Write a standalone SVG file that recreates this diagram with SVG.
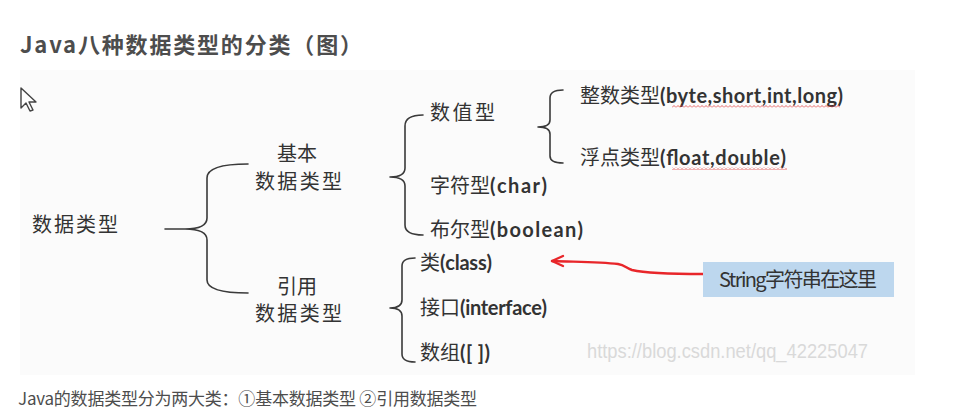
<svg xmlns="http://www.w3.org/2000/svg" width="969" height="411" viewBox="0 0 969 411">
<defs>
<style>
.cn{font-family:"Noto Sans CJK SC","Noto Sans",sans-serif;fill:#333;font-size:20px}
.lat{font-family:Lato,"Open Sans","Liberation Sans",sans-serif;font-weight:700}
.br{fill:none;stroke:#3a3a3a;stroke-width:1.6;stroke-linecap:round}
.page{font-family:"Noto Sans CJK SC","Noto Sans",sans-serif;fill:#4d4d4d}
</style>
<pattern id="wave" width="4" height="3" patternUnits="userSpaceOnUse">
<path d="M0,2.5 L2,0.5 L4,2.5" fill="none" stroke="#e04040" stroke-width="0.8"/>
</pattern>
</defs>
<rect width="969" height="411" fill="#ffffff"/>
<text x="20" y="53" class="page" font-size="22" font-weight="700" textLength="342">Java八种数据类型的分类（图）</text>
<rect x="20" y="70" width="895" height="305" fill="#fbfbfb"/>
<g id="cursor"><path d="M21,88 L21,108 L26,103 L30,111 L33,110 L29,102 L36,102 Z" fill="#fff" stroke="#444" stroke-width="1.4" stroke-linejoin="round"/></g>
<g id="watermark"><text x="587" y="358" font-family="'Liberation Sans',Arial,sans-serif" font-size="21" fill="#d9d9d9" textLength="281" lengthAdjust="spacingAndGlyphs">https://blog.csdn.net/qq_42225047</text></g>
<g id="connectors">
<path class="br" d="M248,164 Q207,164 207,178 L207,218 Q207,229 185,229 L165,229 M248,293 Q207,293 207,280 L207,240 Q207,229 185,229"/>
<path class="br" d="M423,115 Q405,115 405,126 L405,168 Q405,177 390,177 M423,235 Q405,235 405,225 L405,186 Q405,177 390,177"/>
<path class="br" d="M563,90 Q550,90 550,98 L550,120 Q550,127 538,127 M563,163 Q550,163 550,156 L550,134 Q550,127 538,127"/>
<path class="br" d="M415,258 Q402,258 402,266 L402,300 Q402,308 390,308 M415,362 Q402,362 402,354 L402,316 Q402,308 390,308"/>
<g fill="none" stroke="#e8262a" stroke-width="2.4" stroke-linecap="round" stroke-linejoin="round">
<path d="M703,274 C680,274 645,273 632,270 C626,268 625,265 618,264 C600,262 580,262 552,261"/>
<path d="M563,256 L552,261 L563,266"/>
</g>
</g>
<g id="root"><text x="32" y="232" class="cn" font-size="21" textLength="86">数据类型</text></g>
<g id="basic"><text x="297" y="161" class="cn" font-size="21" text-anchor="middle">基本</text><text x="255" y="189" class="cn" font-size="21" textLength="87">数据类型</text></g>
<g id="ref"><text x="297" y="294" class="cn" font-size="21" text-anchor="middle">引用</text><text x="255" y="321" class="cn" font-size="21" textLength="87">数据类型</text></g>
<g id="numeric"><text x="430" y="120" class="cn" font-size="21" textLength="65">数值型</text></g>
<g id="integer"><text x="580" y="103" class="cn" font-size="20">整数类型<tspan class="lat" textLength="183">(byte,short,int,long)</tspan></text><rect x="672" y="105" width="168" height="3" fill="url(#wave)"/></g>
<g id="float"><text x="580" y="165" class="cn" font-size="20">浮点类型<tspan class="lat" textLength="126">(float,double)</tspan></text><rect x="672" y="167" width="115" height="3" fill="url(#wave)"/></g>
<g id="char"><text x="430" y="193" class="cn" font-size="20">字符型<tspan class="lat" textLength="57">(char)</tspan></text></g>
<g id="boolean"><text x="430" y="237" class="cn" font-size="20">布尔型<tspan class="lat" textLength="93">(boolean)</tspan></text></g>
<g id="class"><text x="420" y="270" class="cn" font-size="20">类<tspan class="lat" textLength="52">(class)</tspan></text></g>
<g id="interface"><text x="420" y="315" class="cn" font-size="20">接口<tspan class="lat" textLength="87">(interface)</tspan></text></g>
<g id="array"><text x="420" y="360" class="cn" font-size="20">数组<tspan class="lat" textLength="30">([ ])</tspan></text></g>
<g id="note"><rect x="703" y="262" width="191" height="35" fill="#bdd7ee"/><text x="798" y="287" class="cn" font-size="19" text-anchor="middle" textLength="158">String字符串在这里</text></g>
<text x="18" y="405" class="page" font-size="17" textLength="459">Java的数据类型分为两大类：①基本数据类型 ②引用数据类型</text>
</svg>
